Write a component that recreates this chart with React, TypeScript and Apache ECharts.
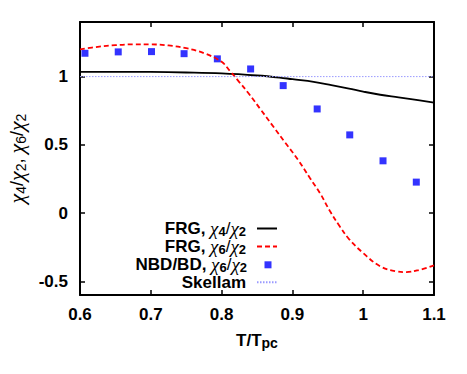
import React, { useEffect, useRef } from 'react';
import * as echarts from 'echarts';

// ---- data ----
const xTicks = [0.6, 0.7, 0.8, 0.9, 1.0, 1.1];
const yTicks = [-0.5, 0, 0.5, 1];

const frg4X = [0.6, 0.65, 0.7, 0.75, 0.8, 0.85, 0.882, 0.9, 0.93, 0.955, 0.98, 1.0, 1.024, 1.05, 1.07, 1.1];
const frg4Y = [1.034, 1.035, 1.034, 1.03, 1.023, 1.008, 0.993, 0.981, 0.962, 0.938, 0.912, 0.89, 0.867, 0.848, 0.833, 0.81];

const frg6X = [0.6, 0.625, 0.65, 0.675, 0.7, 0.725, 0.75, 0.775, 0.8, 0.812, 0.825, 0.838, 0.855, 0.873, 0.89, 0.908, 0.925, 0.939, 0.953, 0.967, 0.98, 1.0, 1.024, 1.047, 1.061, 1.08, 1.1];
const frg6Y = [1.2, 1.218, 1.23, 1.236, 1.236, 1.228, 1.208, 1.172, 1.108, 1.04, 0.96, 0.878, 0.76, 0.634, 0.515, 0.39, 0.255, 0.146, 0.015, -0.098, -0.19, -0.293, -0.39, -0.427, -0.432, -0.415, -0.383];

const nbdX = [0.607, 0.654, 0.701, 0.747, 0.794, 0.841, 0.887, 0.935, 0.981, 1.028, 1.075];
const nbdY = [1.171, 1.181, 1.183, 1.168, 1.13, 1.056, 0.934, 0.763, 0.573, 0.383, 0.227];

const skellamX = [0.6, 1.1];
const skellamY = [1, 1];

const seriesNames = ['FRG, χ4/χ2', 'FRG, χ6/χ2', 'NBD/BD, χ6/χ2', 'Skellam'];
const legendRichText: Record<string, string> = {
  'FRG, χ4/χ2': '{b|FRG, }{c|χ}{s|4}{n|/}{c|χ}{s|2}',
  'FRG, χ6/χ2': '{b|FRG, }{c|χ}{s|6}{n|/}{c|χ}{s|2}',
  'NBD/BD, χ6/χ2': '{b|NBD/BD, }{c|χ}{s|6}{n|/}{c|χ}{s|2}',
  'Skellam': '{b|Skellam}',
};

const zip = (xs: number[], ys: number[]) => xs.map((x, i) => [x, ys[i]]);

const FONT = '"Liberation Sans", Arial, Helvetica, sans-serif';
const CHI_FONT = '"Liberation Serif", "DejaVu Serif", serif';

const rich = (bold: boolean, lh: number, main: number, chi: number, sub: number, subLh: number) => ({
  b: { fontFamily: FONT, fontWeight: 'bold', fontSize: main, lineHeight: lh, color: '#000' },
  n: { fontFamily: FONT, fontWeight: 'normal', fontSize: main, lineHeight: lh, color: '#000' },
  c: { fontFamily: CHI_FONT, fontStyle: 'italic', fontSize: chi, lineHeight: lh, color: '#000' },
  s: { fontFamily: FONT, fontWeight: bold ? 'bold' : 'normal', fontSize: sub, lineHeight: subLh, verticalAlign: 'bottom', color: '#000' },
});

const fmt = (v: number) => String(parseFloat(v.toFixed(2)));

export default function App() {
  const ref = useRef<HTMLDivElement>(null);
  useEffect(() => {
    if (!ref.current) return;
    const chart = echarts.init(ref.current, undefined, { renderer: 'svg' });
    const axisLine = { onZero: false, lineStyle: { color: '#000', width: 2 } };
    const tickX = { inside: true, length: 5, customValues: xTicks, lineStyle: { color: '#000', width: 1.5 } };
    const tickY = { inside: true, length: 5, customValues: yTicks, lineStyle: { color: '#000', width: 1.5 } };
    const labelStyle = { fontFamily: FONT, fontWeight: 'bold', fontSize: 17, color: '#000' };
    const hiddenSymbol = { color: 'rgba(0,0,0,0)', borderColor: 'rgba(0,0,0,0)', borderWidth: 0, opacity: 0 };
    const legendRich = rich(true, 18, 17, 19, 13, 9);
    const rowCenters = [228, 246, 264.3, 282.7];
    const legends = seriesNames.map((name, i) => ({
      orient: 'vertical', align: 'right', right: i === 2 ? 195.5 : 189, top: rowCenters[i] - 9, padding: 0,
      itemWidth: 20, itemHeight: 7, selectedMode: false,
      formatter: (n: string) => legendRichText[n] ?? n,
      textStyle: { padding: [0, 6, 0, 0], rich: legendRich },
      data: [i === 2 ? { name, icon: 'path://M0,0h10v10h-10z' } : { name, itemStyle: hiddenSymbol }],
    }));
    chart.setOption({
      animation: false,
      backgroundColor: '#fff',
      grid: { left: 80, right: 33, top: 22, bottom: 79, containLabel: false, outerBoundsMode: 'none' },
      xAxis: [
        {
          type: 'value', position: 'bottom', min: 0.6, max: 1.1,
          axisLine, axisTick: tickX, splitLine: { show: false },
          axisLabel: { ...labelStyle, customValues: xTicks, formatter: fmt, margin: 11 },
          name: '{b|T/T}{s|pc}', nameLocation: 'middle', nameGap: 35,
          nameTextStyle: { rich: rich(true, 20, 17, 17, 14, 12) },
        },
        {
          type: 'value', position: 'top', min: 0.6, max: 1.1,
          axisLine, axisTick: tickX, splitLine: { show: false }, axisLabel: { show: false },
        },
      ],
      yAxis: [
        {
          type: 'value', position: 'left', min: -0.6, max: 1.4,
          axisLine, axisTick: tickY, splitLine: { show: false },
          axisLabel: { ...labelStyle, customValues: yTicks, formatter: fmt, margin: 12 },
          name: '{c|χ}{s|4}{n|/}{c|χ}{s|2}{n|, }{c|χ}{s|6}{n|/}{c|χ}{s|2}',
          nameLocation: 'middle', nameGap: 49, nameRotate: 90,
          nameTextStyle: { rich: rich(false, 22, 18, 22, 14, 12) },
        },
        {
          type: 'value', position: 'right', min: -0.6, max: 1.4,
          axisLine, axisTick: tickY, splitLine: { show: false }, axisLabel: { show: false },
        },
      ],
      legend: legends,
      series: [
        {
          name: seriesNames[0], type: 'line', data: zip(frg4X, frg4Y), smooth: 0.4,
          symbol: 'none', showSymbol: false, lineStyle: { color: '#000', width: 1.8 }, itemStyle: { color: '#000' },
        },
        {
          name: seriesNames[1], type: 'line', data: zip(frg6X, frg6Y), smooth: 0.4,
          symbol: 'none', showSymbol: false, lineStyle: { color: '#ff0000', width: 1.8, type: [5, 3] }, itemStyle: { color: '#ff0000' },
        },
        {
          name: seriesNames[2], type: 'scatter', data: zip(nbdX, nbdY), symbol: 'rect', symbolSize: 7,
          itemStyle: { color: '#0000ff' },
        },
        {
          name: seriesNames[3], type: 'line', data: zip(skellamX, skellamY),
          symbol: 'none', showSymbol: false, lineStyle: { color: '#9a9aff', width: 1, type: [1.5, 1.5] }, itemStyle: { color: '#9a9aff' },
        },
      ],
    });
    return () => chart.dispose();
  }, []);
  return <div ref={ref} style={{ position: 'absolute', left: 0, top: 0, width: 467, height: 374 }} />;
}
